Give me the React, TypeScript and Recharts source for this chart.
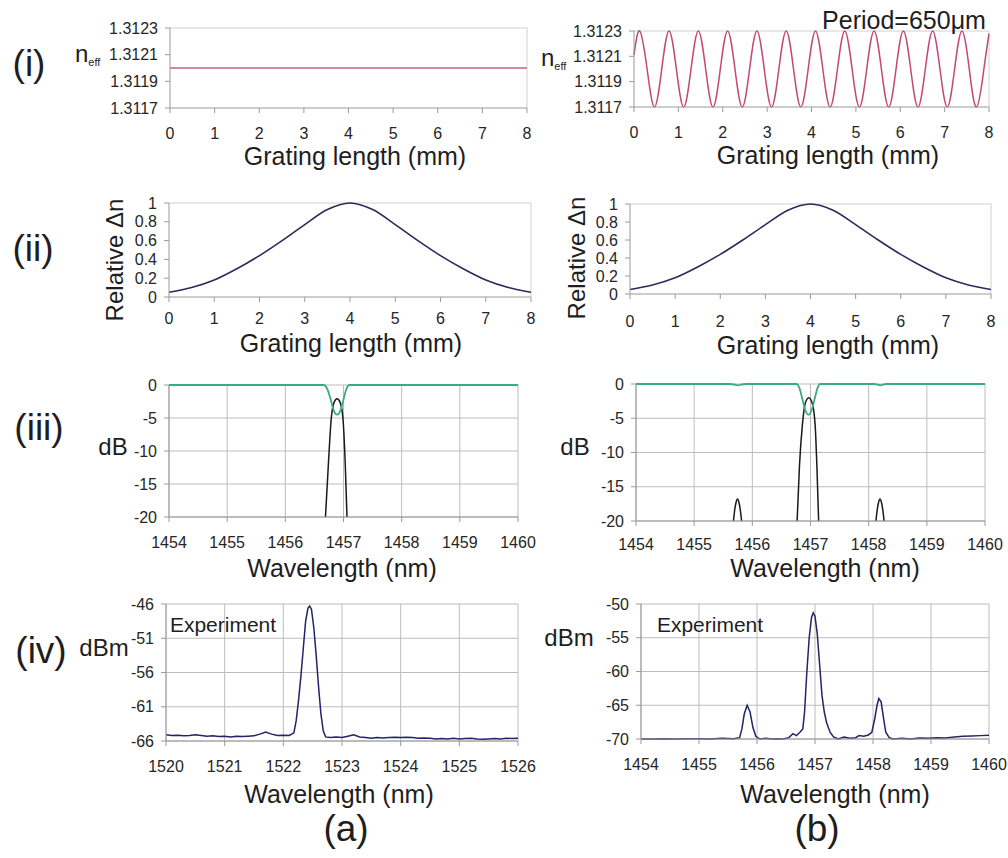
import * as React from 'react'
import { LineChart, Line, XAxis, YAxis, CartesianGrid } from 'recharts'

const FONT = '"Liberation Sans", Arial, Helvetica, sans-serif'

// (i) effective index along the grating
const lengthTicks = [0, 1, 2, 3, 4, 5, 6, 7, 8]
const neffTicks = [1.3117, 1.3119, 1.3121, 1.3123]
const neffFlatX = [0, 8]
const neffFlat = [1.312, 1.312]
const neffSineX = [
  0, 0.13, 0.295, 0.46, 0.625, 0.79, 0.955, 1.12, 1.285, 1.45, 1.615, 1.78, 1.945,
  2.11, 2.275, 2.44, 2.605, 2.77, 2.935, 3.1, 3.265, 3.43, 3.595, 3.76, 3.925,
  4.09, 4.255, 4.42, 4.585, 4.75, 4.915, 5.08, 5.245, 5.41, 5.575, 5.74, 5.905,
  6.07, 6.235, 6.4, 6.565, 6.73, 6.895, 7.06, 7.225, 7.39, 7.555, 7.72, 7.885, 8,
]
const neffSine = [
  1.31211,
  1.3123, 1.312, 1.3117, 1.312, 1.3123, 1.312, 1.3117, 1.312,
  1.3123, 1.312, 1.3117, 1.312, 1.3123, 1.312, 1.3117, 1.312,
  1.3123, 1.312, 1.3117, 1.312, 1.3123, 1.312, 1.3117, 1.312,
  1.3123, 1.312, 1.3117, 1.312, 1.3123, 1.312, 1.3117, 1.312,
  1.3123, 1.312, 1.3117, 1.312, 1.3123, 1.312, 1.3117, 1.312,
  1.3123, 1.312, 1.3117, 1.312, 1.3123, 1.312, 1.3117, 1.312,
  1.31228,
]

// (ii) apodisation profile
const dnTicks = [0, 0.2, 0.4, 0.6, 0.8, 1]
const dnX = [0, 0.5, 1, 1.5, 2, 2.5, 3, 3.5, 4, 4.5, 5, 5.5, 6, 6.5, 7, 7.5, 8]
const dnA = [0.05, 0.1, 0.18, 0.3, 0.44, 0.6, 0.77, 0.93, 1, 0.93, 0.77, 0.6, 0.44, 0.3, 0.18, 0.1, 0.05]
const dnB = [0.05, 0.1, 0.18, 0.3, 0.44, 0.6, 0.77, 0.93, 1, 0.93, 0.77, 0.6, 0.44, 0.3, 0.18, 0.1, 0.05]

// (iii) simulated spectra (black traces start and stop where they leave the -20 dB floor)
const wlTicks = [1454, 1455, 1456, 1457, 1458, 1459, 1460]
const dbTicks = [-20, -15, -10, -5, 0]
const greenAX = [1454, 1456.66, 1456.72, 1456.78, 1456.83, 1456.89, 1456.95, 1457.0, 1457.05, 1457.1, 1460]
const greenA = [0, 0, -0.6, -2.2, -3.8, -4.5, -3.8, -2.2, -0.6, 0, 0]
const blackAX = [1456.69, 1456.74, 1456.79, 1456.84, 1456.89, 1456.94, 1456.99, 1457.03, 1457.06]
const blackA = [-20, -12, -5, -2.6, -2.1, -2.6, -5, -12, -20]
const greenBX = [
  1454, 1455.6, 1455.7, 1455.75, 1455.8, 1455.9, 1456.76, 1456.81, 1456.86, 1456.91, 1456.965,
  1457.02, 1457.07, 1457.12, 1457.17, 1458.1, 1458.15, 1458.2, 1458.25, 1458.3, 1460,
]
const greenB = [0, 0, -0.1, -0.2, -0.1, 0, 0, -0.6, -2.2, -3.8, -4.5, -3.8, -2.2, -0.6, 0, 0, -0.1, -0.2, -0.1, 0, 0]
const blackBLobeLX = [1455.675, 1455.7, 1455.72, 1455.745, 1455.77, 1455.79, 1455.815]
const blackBLobeL = [-20, -18.2, -17.3, -16.8, -17.3, -18.2, -20]
const blackBMainX = [1456.77, 1456.81, 1456.86, 1456.91, 1456.97, 1457.03, 1457.08, 1457.11, 1457.14]
const blackBMain = [-20, -12, -6, -2.8, -2.0, -2.8, -6, -12, -20]
const blackBLobeRX = [1458.125, 1458.15, 1458.17, 1458.195, 1458.22, 1458.24, 1458.265]
const blackBLobeR = [-20, -18.2, -17.3, -16.8, -17.3, -18.2, -20]

// (iv) measured spectra
const expATicksX = [1520, 1521, 1522, 1523, 1524, 1525, 1526]
const expATicksY = [-66, -61, -56, -51, -46]
const expAX = [
  1520.0, 1520.1, 1520.2, 1520.3, 1520.4, 1520.5, 1520.6, 1520.7, 1520.8, 1520.9,
  1521.0, 1521.1, 1521.2, 1521.3, 1521.4, 1521.5, 1521.6, 1521.7, 1521.8, 1521.9,
  1522.0, 1522.1, 1522.18, 1522.22, 1522.26, 1522.3, 1522.34, 1522.38, 1522.42, 1522.45,
  1522.48, 1522.52, 1522.56, 1522.6, 1522.64, 1522.68, 1522.72, 1522.8, 1522.9,
  1523.0, 1523.1, 1523.2, 1523.3, 1523.4, 1523.5, 1523.6, 1523.7, 1523.8, 1523.9,
  1524.0, 1524.1, 1524.2, 1524.3, 1524.4, 1524.5, 1524.6, 1524.7, 1524.8, 1524.9,
  1525.0, 1525.1, 1525.2, 1525.3, 1525.4, 1525.5, 1525.6, 1525.7, 1525.8, 1525.9, 1526.0,
]
const expA = [
  -65.1, -65.2, -65.15, -65.25, -65.2, -65.1, -65.2, -65.3, -65.25, -65.35,
  -65.3, -65.4, -65.3, -65.35, -65.3, -65.25, -65.0, -64.7, -65.0, -65.2,
  -65.15, -65.2, -64.8, -63, -60, -56.5, -52.5, -48.5, -46.6, -46.3,
  -46.8, -49.5, -53.5, -58, -62, -64.5, -65.4, -65.5, -65.4,
  -65.5, -65.3, -65.1, -65.4, -65.5, -65.6, -65.5, -65.55, -65.5, -65.45,
  -65.5, -65.45, -65.5, -65.6, -65.55, -65.6, -65.7, -65.65, -65.7, -65.6,
  -65.7, -65.65, -65.6, -65.7, -65.75, -65.7, -65.65, -65.7, -65.6, -65.65, -65.6,
]
const expBTicksY = [-70, -65, -60, -55, -50]
const expBX = [
  1454.0, 1454.2, 1454.4, 1454.6, 1454.8, 1455.0, 1455.2, 1455.4, 1455.6, 1455.7,
  1455.74, 1455.78, 1455.83, 1455.88, 1455.93, 1455.98, 1456.05, 1456.15, 1456.25, 1456.35,
  1456.45, 1456.55, 1456.62, 1456.68, 1456.74, 1456.79, 1456.82, 1456.86, 1456.9, 1456.94,
  1456.97, 1457.0, 1457.04, 1457.08, 1457.12, 1457.16, 1457.2, 1457.26, 1457.32, 1457.4,
  1457.5, 1457.6, 1457.7, 1457.76, 1457.84, 1457.92, 1457.98, 1458.03, 1458.07, 1458.1,
  1458.14, 1458.18, 1458.22, 1458.28, 1458.35, 1458.5, 1458.65, 1458.8, 1458.95, 1459.1,
  1459.25, 1459.4, 1459.55, 1459.7, 1459.85, 1460.0,
]
const expB = [
  -70.0, -70.0, -69.95, -70.0, -69.95, -69.95, -70.0, -69.9, -69.95, -69.8,
  -68.5, -66.3, -65.0, -66.0, -68.3, -69.6, -70.0, -69.9, -70.0, -69.95,
  -70.0, -69.8, -69.2, -69.5, -69.0, -68.5, -66, -60, -55, -52,
  -51.3, -51.8, -54.5, -59, -63.5, -66, -67.6, -69, -69.7, -70.0,
  -69.7, -69.9, -69.8, -69.5, -69.6, -69.4, -69.0, -67.0, -65.0, -64.0,
  -64.5, -66.8, -69.0, -69.8, -70.0, -69.9, -70.0, -69.85, -69.9, -69.8,
  -69.85, -69.7, -69.6, -69.55, -69.5, -69.45,
]

const pts = (xs: number[], ys: number[]) => xs.map((x, i) => ({ x, y: ys[i] }))

type Series = { data: { x: number; y: number }[]; color: string; width?: number; curve?: 'monotone' | 'natural' | 'linear' }

interface PanelProps {
  rect: [number, number, number, number]
  xDomain: [number, number]
  xTicks: number[]
  yDomain: [number, number]
  yTicks: number[]
  yFmt?: (v: number) => string
  grid?: boolean
  xGap: number
  series: Series[]
}

const tickStyle = { fontSize: 16, fill: '#262626', fontFamily: FONT }

function Panel({ rect, xDomain, xTicks, yDomain, yTicks, yFmt, grid, xGap, series }: PanelProps) {
  const [px0, py0, px1, py1] = rect
  const W = 70
  const mt = 10
  const mr = 30
  const XH = 45
  const width = px1 - px0 + W + mr
  const height = py1 - py0 + mt + XH
  return (
    <div style={{ position: 'absolute', left: px0 - W, top: py0 - mt }}>
      <LineChart width={width} height={height} margin={{ top: mt, right: mr, left: 0, bottom: 0 }}>
        {grid ? (
          <CartesianGrid stroke="#bcbcbc" />
        ) : (
          // plain box round the plot, no inner grid
          <CartesianGrid
            stroke="#d0d0d0"
            horizontalValues={[yDomain[1]]}
            verticalValues={[xDomain[1]]}
          />
        )}
        <XAxis
          type="number"
          dataKey="x"
          domain={xDomain}
          ticks={xTicks}
          interval={0}
          height={XH}
          tick={tickStyle}
          tickSize={5}
          tickMargin={xGap}
          stroke="#9a9a9a"
        />
        <YAxis
          type="number"
          dataKey="y"
          domain={yDomain}
          ticks={yTicks}
          interval={0}
          width={W}
          tick={tickStyle}
          tickFormatter={yFmt}
          tickSize={5}
          tickMargin={7}
          stroke="#9a9a9a"
        />
        {series.map((s, i) => (
          <Line
            key={i}
            data={s.data}
            dataKey="y"
            type={s.curve ?? 'monotone'}
            stroke={s.color}
            strokeWidth={s.width ?? 1.6}
            dot={false}
            activeDot={false}
            isAnimationActive={false}
          />
        ))}
      </LineChart>
    </div>
  )
}

function Txt({ x, y, size, rotate, children }: { x: number; y: number; size: number; rotate?: number; children: React.ReactNode }) {
  return (
    <div
      style={{
        position: 'absolute',
        left: x,
        top: y,
        transform: `translate(-50%, -50%)${rotate ? ` rotate(${rotate}deg)` : ''}`,
        fontSize: size,
        lineHeight: 1,
        whiteSpace: 'nowrap',
        color: '#1e1e1e',
      }}
    >
      {children}
    </div>
  )
}

function Neff({ left, top }: { left: number; top: number }) {
  return (
    <div style={{ position: 'absolute', left, top, fontSize: 24, lineHeight: '24px', color: '#1e1e1e', whiteSpace: 'nowrap' }}>
      n<span style={{ fontSize: 11, position: 'relative', top: 4 }}>eff</span>
    </div>
  )
}

const PINK_A = '#d4889b'
const PINK_B = '#c4486f'
const NAVY = '#2b2b5c'
const GREEN = '#3aaa80'
const BLACK = '#1a1a1a'
const EXP = '#23236a'

export default function App() {
  const fmt4 = (v: number) => v.toFixed(4)
  return (
    <div
      style={{
        position: 'absolute',
        left: 0,
        top: 0,
        width: 1008,
        height: 858,
        background: '#ffffff',
        fontFamily: FONT,
        overflow: 'hidden',
      }}
    >
      <Panel
        rect={[170, 28, 527, 108]}
        xDomain={[0, 8]}
        xTicks={lengthTicks}
        yDomain={[1.3117, 1.3123]}
        yTicks={neffTicks}
        yFmt={fmt4}
        xGap={15}
        series={[{ data: pts(neffFlatX, neffFlat), color: PINK_A, width: 2, curve: 'linear' }]}
      />
      <Panel
        rect={[634, 31, 989, 107]}
        xDomain={[0, 8]}
        xTicks={lengthTicks}
        yDomain={[1.3117, 1.3123]}
        yTicks={neffTicks}
        yFmt={fmt4}
        xGap={15}
        series={[{ data: pts(neffSineX, neffSine), color: PINK_B, width: 1.5, curve: 'natural' }]}
      />
      <Panel
        rect={[169, 203, 531, 297]}
        xDomain={[0, 8]}
        xTicks={lengthTicks}
        yDomain={[0, 1]}
        yTicks={dnTicks}
        xGap={11}
        series={[{ data: pts(dnX, dnA), color: NAVY }]}
      />
      <Panel
        rect={[630, 204, 991, 294]}
        xDomain={[0, 8]}
        xTicks={lengthTicks}
        yDomain={[0, 1]}
        yTicks={dnTicks}
        xGap={17}
        series={[{ data: pts(dnX, dnB), color: NAVY }]}
      />
      <Panel
        rect={[169, 385, 518, 517]}
        xDomain={[1454, 1460]}
        xTicks={wlTicks}
        yDomain={[-20, 0]}
        yTicks={dbTicks}
        grid
        xGap={15}
        series={[
          { data: pts(blackAX, blackA), color: BLACK, width: 1.5 },
          { data: pts(greenAX, greenA), color: GREEN, width: 1.8 },
        ]}
      />
      <Panel
        rect={[636, 384, 985, 521]}
        xDomain={[1454, 1460]}
        xTicks={wlTicks}
        yDomain={[-20, 0]}
        yTicks={dbTicks}
        grid
        xGap={13}
        series={[
          { data: pts(blackBLobeLX, blackBLobeL), color: BLACK, width: 1.5 },
          { data: pts(blackBMainX, blackBMain), color: BLACK, width: 1.5 },
          { data: pts(blackBLobeRX, blackBLobeR), color: BLACK, width: 1.5 },
          { data: pts(greenBX, greenB), color: GREEN, width: 1.8 },
        ]}
      />
      <Panel
        rect={[166, 604, 518, 741]}
        xDomain={[1520, 1526]}
        xTicks={expATicksX}
        yDomain={[-66, -46]}
        yTicks={expATicksY}
        grid
        xGap={15}
        series={[{ data: pts(expAX, expA), color: EXP, width: 1.5, curve: 'linear' }]}
      />
      <Panel
        rect={[641, 604, 989, 739]}
        xDomain={[1454, 1460]}
        xTicks={wlTicks}
        yDomain={[-70, -50]}
        yTicks={expBTicksY}
        grid
        xGap={15}
        series={[{ data: pts(expBX, expB), color: EXP, width: 1.5, curve: 'linear' }]}
      />

      <Txt x={29} y={63} size={37}>(i)</Txt>
      <Txt x={33} y={248} size={37}>(ii)</Txt>
      <Txt x={39} y={427} size={37}>(iii)</Txt>
      <Txt x={41} y={650} size={37}>(iv)</Txt>
      <Txt x={346} y={828} size={37}>(a)</Txt>
      <Txt x={817} y={828} size={37}>(b)</Txt>

      <Txt x={904} y={20} size={25}>Period=650μm</Txt>

      <Txt x={355} y={156} size={25}>Grating length (mm)</Txt>
      <Txt x={828} y={155} size={25}>Grating length (mm)</Txt>
      <Txt x={351} y={343} size={25}>Grating length (mm)</Txt>
      <Txt x={828} y={345} size={25}>Grating length (mm)</Txt>
      <Txt x={342} y={568} size={25}>Wavelength (nm)</Txt>
      <Txt x={825} y={568} size={25}>Wavelength (nm)</Txt>
      <Txt x={339} y={794} size={25}>Wavelength (nm)</Txt>
      <Txt x={835} y={794} size={25}>Wavelength (nm)</Txt>

      <Neff left={75} top={42} />
      <Neff left={541} top={46} />
      <Txt x={115} y={260} size={24} rotate={-90}>Relative Δn</Txt>
      <Txt x={577} y={258} size={24} rotate={-90}>Relative Δn</Txt>
      <Txt x={113} y={447} size={24}>dB</Txt>
      <Txt x={575} y={447} size={24}>dB</Txt>
      <Txt x={104} y={648} size={24}>dBm</Txt>
      <Txt x={569} y={638} size={24}>dBm</Txt>
      <Txt x={223} y={624} size={21}>Experiment</Txt>
      <Txt x={710} y={624} size={21}>Experiment</Txt>
    </div>
  )
}
